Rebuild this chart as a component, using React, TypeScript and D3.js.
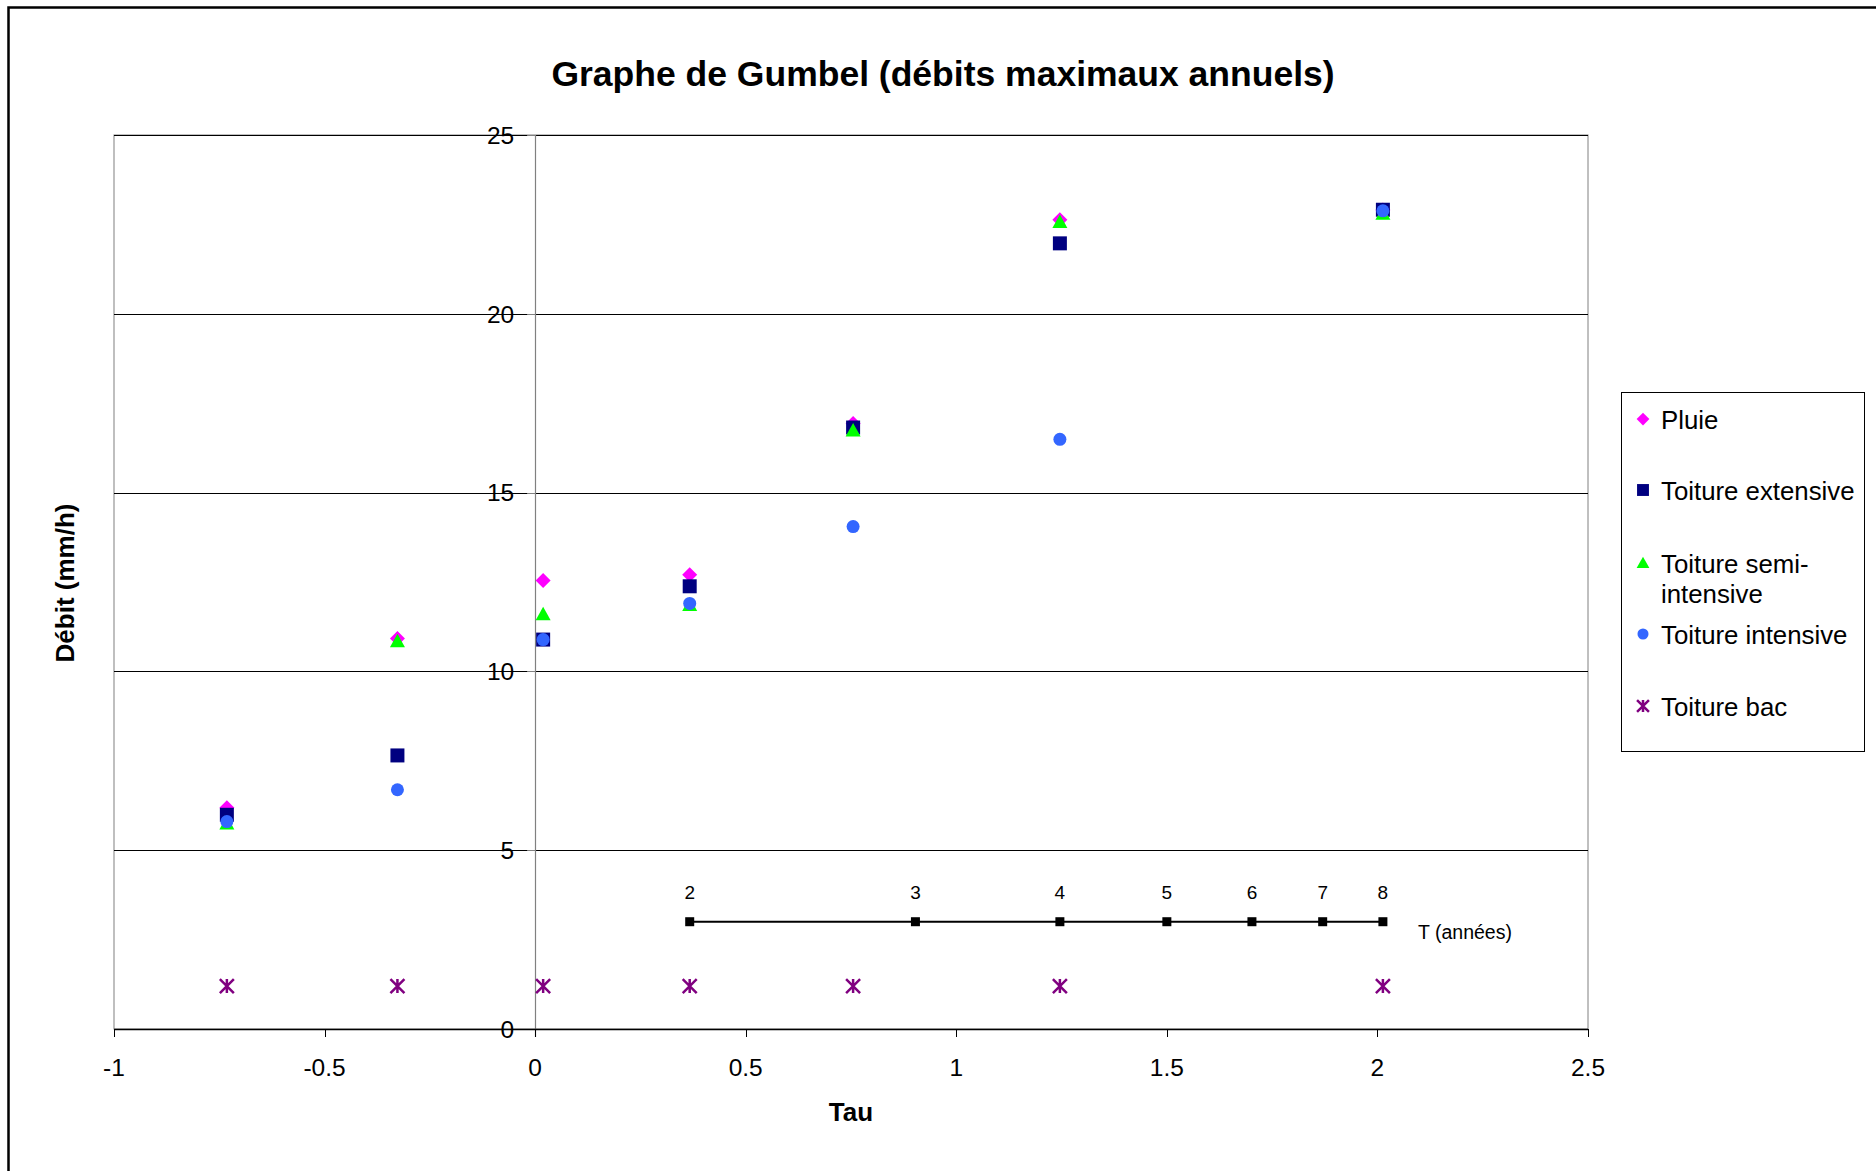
import React from 'react';
import * as d3 from 'd3';

// Gumbel reduced variate (tau) of each ranked year
const tau = [-0.732, -0.327, 0.019, 0.367, 0.755, 1.246, 2.013];

// annual max discharge (mm/h)
const pluie = [6.19, 10.92, 12.54, 12.7, 16.93, 22.63, 22.9];
const toitureExtensive = [5.99, 7.65, 10.89, 12.38, 16.82, 21.97, 22.91];
const toitureSemiIntensive = [5.75, 10.84, 11.6, 11.86, 16.74, 22.57, 22.8];
const toitureIntensive = [5.8, 6.69, 10.89, 11.9, 14.05, 16.49, 22.88];
const toitureBac = [1.2, 1.2, 1.2, 1.2, 1.2, 1.2, 1.2];

// return period scale drawn inside the plot
const periodT = [2, 3, 4, 5, 6, 7, 8];
const periodTau = [0.367, 0.903, 1.246, 1.5, 1.702, 1.87, 2.013];
const periodLevel = 3;

const xTicks = [-1, -0.5, 0, 0.5, 1, 1.5, 2, 2.5];
const yTicks = [0, 5, 10, 15, 20, 25];

const FONT = '"Liberation Sans", Arial, sans-serif';

function marker(kind, s) {
  // s = half size
  if (kind === 'diamond') return `M0,${-s}L${s},0L0,${s}L${-s},0Z`;
  if (kind === 'square') return `M${-s},${-s}H${s}V${s}H${-s}Z`;
  if (kind === 'triangle') return `M0,${-s}L${s},${s * 0.8}L${-s},${s * 0.8}Z`;
  if (kind === 'circle') return `M${s},0A${s},${s} 0 1,1 ${-s},0A${s},${s} 0 1,1 ${s},0Z`;
  // asterisk
  return `M${-s},${-s}L${s},${s}M${-s},${s}L${s},${-s}M0,${-s}L0,${s}`;
}

const series = [
  { name: ['Pluie'], values: pluie, color: '#FF00FF', kind: 'diamond', size: 7.5 },
  { name: ['Toiture extensive'], values: toitureExtensive, color: '#000080', kind: 'square', size: 7 },
  { name: ['Toiture semi-', 'intensive'], values: toitureSemiIntensive, color: '#00FF00', kind: 'triangle', size: 7.5 },
  { name: ['Toiture intensive'], values: toitureIntensive, color: '#3366FF', kind: 'circle', size: 6.5 },
  { name: ['Toiture bac'], values: toitureBac, color: '#800080', kind: 'star', size: 7 },
];

export default function App() {
  const W = 1876;
  const H = 1171;
  const x = d3.scaleLinear().domain([-1, 2.5]).range([114, 1588]);
  const y = d3.scaleLinear().domain([0, 25]).range([1029, 135]);

  const periodLine = d3.line<number>()
    .x((d) => x(d))
    .y(() => y(periodLevel));

  const legendY = [419, 490, 563, 634, 706];

  const drawMarker = (s, cx, cy, key, scale = 1) =>
    s.kind === 'star' ? (
      <path key={key} d={marker(s.kind, s.size * scale)} transform={`translate(${cx},${cy})`}
        fill="none" stroke={s.color} strokeWidth={2.5} />
    ) : (
      <path key={key} d={marker(s.kind, s.size * scale)} transform={`translate(${cx},${cy})`}
        fill={s.color} />
    );

  return (
    <div>
      <style>{'body{margin:0}'}</style>
      <svg width={W} height={H} style={{ display: 'block', background: '#fff' }} fontFamily={FONT}>
        {/* chart frame */}
        <rect x={8.5} y={7.5} width={W + 20} height={H + 20} fill="#fff" stroke="#000" strokeWidth={2.5} />

        <text x={943} y={86} textAnchor="middle" fontSize={35.5} fontWeight="bold">
          Graphe de Gumbel (débits maximaux annuels)
        </text>

        {/* plot area */}
        <rect x={x(-1)} y={y(25)} width={x(2.5) - x(-1)} height={y(0) - y(25)} fill="#fff" stroke="#808080" strokeWidth={1} />
        {yTicks.map((t) => (
          <line key={'g' + t} x1={x(-1)} x2={x(2.5)} y1={Math.round(y(t)) + 0.5} y2={Math.round(y(t)) + 0.5}
            stroke="#000" strokeWidth={1} />
        ))}

        {/* y axis at x = 0 */}
        <line x1={Math.round(x(0)) + 0.5} x2={Math.round(x(0)) + 0.5} y1={y(25)} y2={y(0) + 8} stroke="#808080" strokeWidth={1.2} />
        {yTicks.map((t) => (
          <g key={'y' + t}>
            <line x1={x(0) - 8} x2={x(0)} y1={Math.round(y(t)) + 0.5} y2={Math.round(y(t)) + 0.5} stroke="#808080" />
            <text x={x(0) - 21} y={y(t)} dy="0.36em" textAnchor="end" fontSize={24.5}>{t}</text>
          </g>
        ))}

        {/* x axis */}
        <line x1={x(-1)} x2={x(2.5)} y1={Math.round(y(0)) + 0.5} y2={Math.round(y(0)) + 0.5} stroke="#000" strokeWidth={1.5} />
        {xTicks.map((t) => (
          <g key={'x' + t}>
            <line x1={Math.round(x(t)) + 0.5} x2={Math.round(x(t)) + 0.5} y1={y(0)} y2={y(0) + 8} stroke="#000" />
            <text x={x(t)} y={y(0) + 38} dy="0.36em" textAnchor="middle" fontSize={24.5}>{String(t)}</text>
          </g>
        ))}

        <text x={851} y={1121} textAnchor="middle" fontSize={26} fontWeight="bold">Tau</text>
        <text transform="translate(74,583) rotate(-90)" textAnchor="middle" fontSize={26} fontWeight="bold">Débit (mm/h)</text>

        {/* return period scale */}
        <path d={periodLine(periodTau) || ''} fill="none" stroke="#000" strokeWidth={2} />
        {periodTau.map((v, i) => (
          <g key={'t' + i}>
            <rect x={x(v) - 4.5} y={y(periodLevel) - 4.5} width={9} height={9} fill="#000" />
            <text x={x(v)} y={y(periodLevel) - 30} dy="0.36em" textAnchor="middle" fontSize={19}>{periodT[i]}</text>
          </g>
        ))}
        <text x={1418} y={939} fontSize={19.5}>T (années)</text>

        {/* series */}
        {series.map((s, si) => (
          <g key={'s' + si}>
            {s.values.map((v, i) => drawMarker(s, x(tau[i]), y(v), i))}
          </g>
        ))}

        {/* legend */}
        <rect x={1621.5} y={392.5} width={243} height={359} fill="#fff" stroke="#000" strokeWidth={1} />
        {series.map((s, si) => (
          <g key={'l' + si}>
            {drawMarker(s, 1643, legendY[si], 'm', 0.85)}
            {s.name.map((line, li) => (
              <text key={li} x={1661} y={legendY[si] + 10 + li * 30} fontSize={25.8}>{line}</text>
            ))}
          </g>
        ))}
      </svg>
    </div>
  );
}
